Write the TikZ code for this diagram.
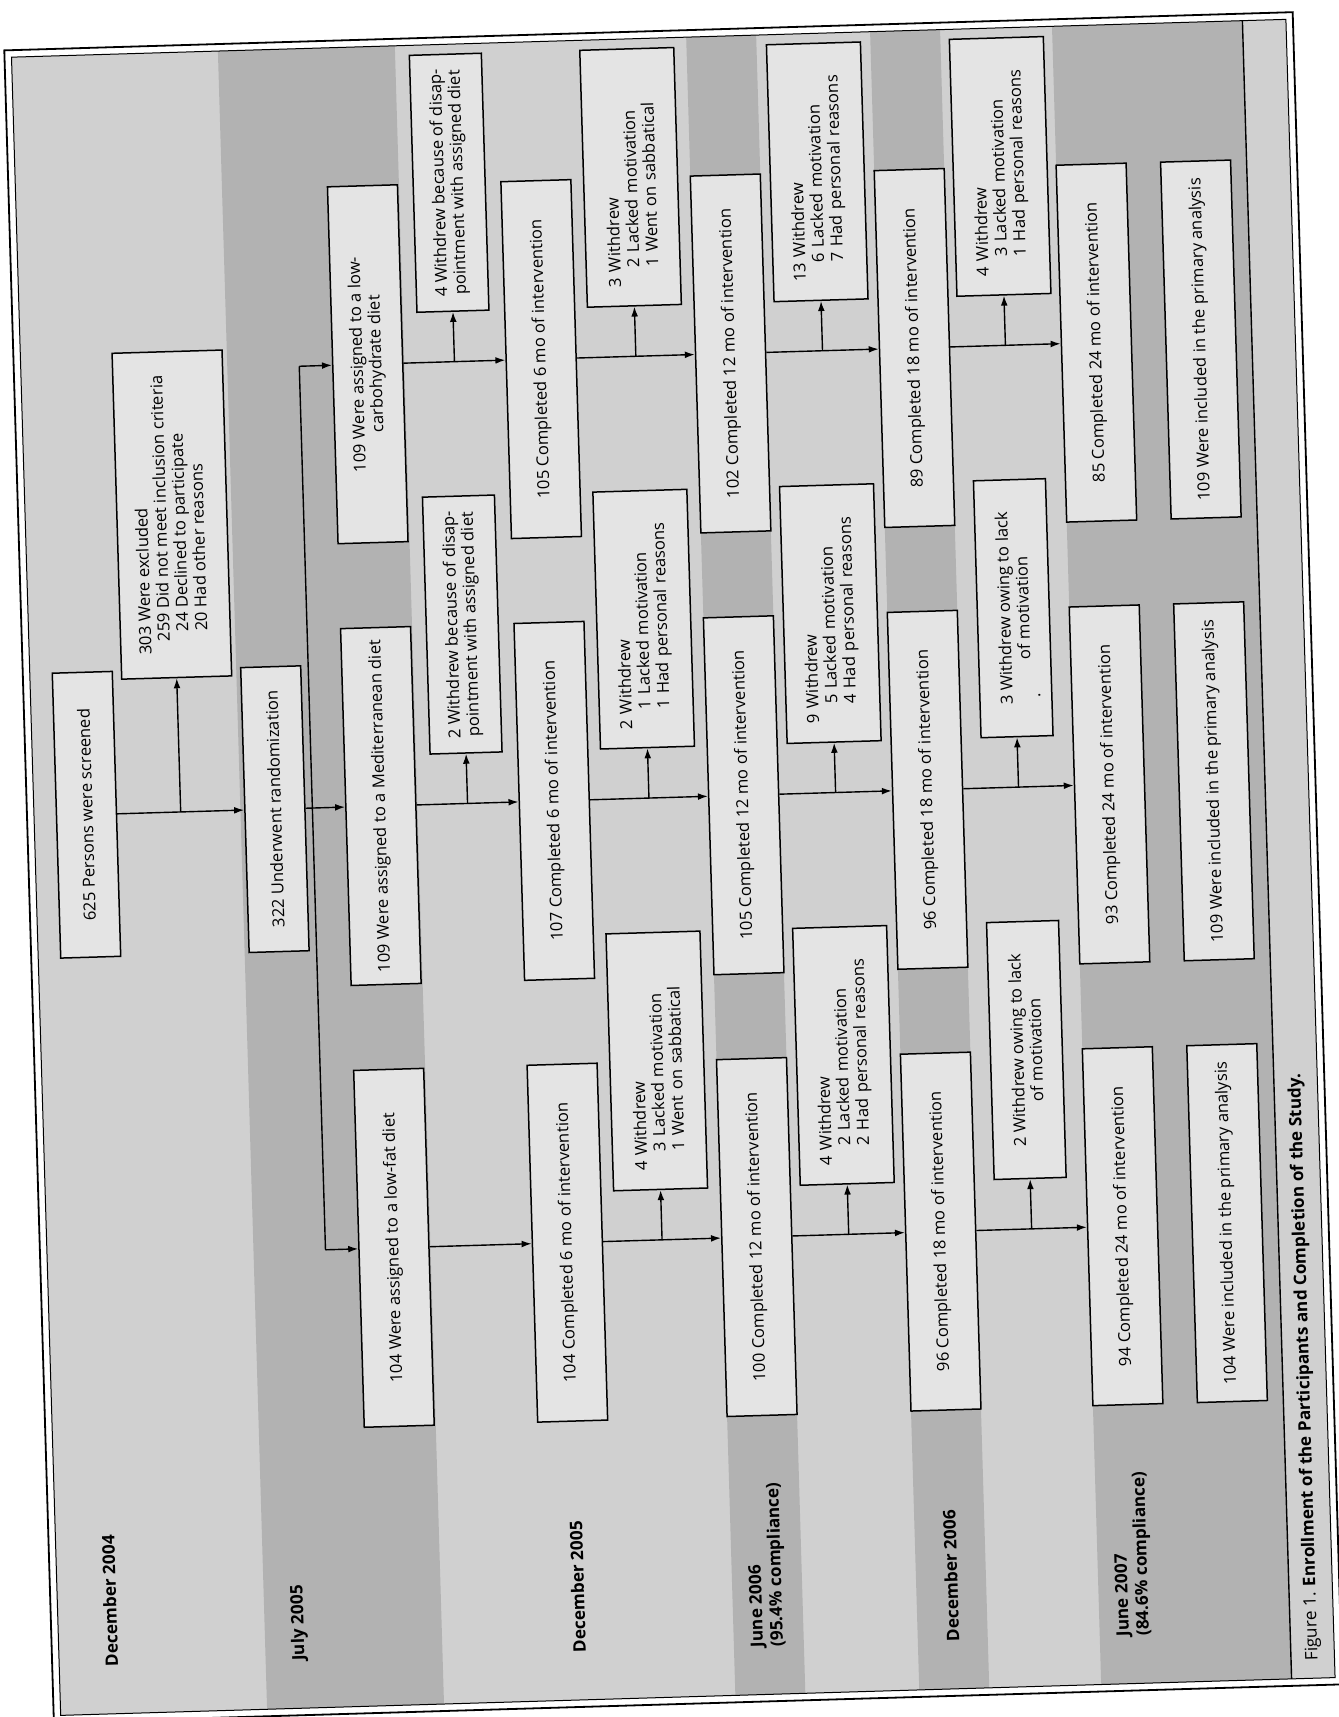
\documentclass[tikz,border=0pt]{standalone}
\usepackage{fontspec}
\setmainfont{Open Sans}
\usetikzlibrary{arrows.meta,calc}
\definecolor{bgc}{RGB}{208,208,208}
\definecolor{bandc}{RGB}{178,178,178}
\definecolor{boxc}{RGB}{228,228,228}
\newcommand\wind{\hspace*{1.15em}}
\begin{document}
\begin{tikzpicture}[x=0.5pt,y=-0.5pt,
  bx/.style={draw, line width=0.75pt, fill=boxc, rotate=90, inner sep=0pt, align=center, font=\fontsize{8.3}{9.4}\selectfont},
  mainbox/.style={bx, minimum width=178.5pt, minimum height=35pt},
  topbox/.style={bx, minimum width=142.5pt, minimum height=30pt},
  wtwo/.style={bx, minimum width=128.5pt, minimum height=36pt},
  wthree/.style={bx, text width=109.5pt, align=left, inner xsep=9.5pt, minimum height=47pt},
  arr/.style={-{Latex[length=5pt,width=3.4pt]}, line width=0.7pt},
  ln/.style={line width=0.7pt},
  lab/.style={rotate=90, anchor=west, inner sep=0pt, align=left, font=\bfseries\fontsize{8.6}{10}\selectfont}]
\useasboundingbox (0,0) rectangle (1338,1717);
\fill[white] (0,0) rectangle (1338,1717);
\begin{scope}[rotate around={1.7:(669,858)}, transform shape]
% background and bands
\fill[bgc] (35.5,38) rectangle (1310.5,1697);
\fill[bandc] (242,38) rectangle (419,1697);
\fill[bandc] (710.5,38) rectangle (780.5,1697);
\fill[bandc] (894.5,38) rectangle (964.5,1697);
\fill[bandc] (1076.5,38) rectangle (1267,1697);
% frame
\draw[line width=0.9pt] (28.5,31) rectangle (1317.5,1704);
\draw[line width=0.5pt] (35.5,38) rectangle (1310.5,1697);
\draw[line width=0.7pt] (1267,38) -- (1267,1697);

% enrollment
\node[topbox] (b625) at (88,797.5) {625 Persons were screened};
\node[topbox] (b322) at (276.5,797.5) {322 Underwent randomization};
\node[bx, minimum width=163pt, minimum height=55pt] (b303) at (182.25,500)
  {\begin{tabular}{@{}l@{}}303 Were excluded\\
   \hspace*{0.77em}\makebox[1.72em][r]{259} Did not meet inclusion criteria\\
   \hspace*{0.77em}\makebox[1.72em][r]{24} Declined to participate\\
   \hspace*{0.77em}\makebox[1.72em][r]{20} Had other reasons\end{tabular}};
\coordinate (sp1) at (314,355.5);
\coordinate (sp3) at (314,1239.5);

% low-carbohydrate row
\node[mainbox] (dC) at (382.5,355.5) {109 Were assigned to a low-\\carbohydrate diet};
\node[wtwo] (w6C) at (469.25,176.5) {4 Withdrew because of disap-\\pointment with assigned diet};
\node[mainbox] (s6C) at (556,355.5) {105 Completed 6 mo of intervention};
\node[wthree] (w12C) at (650.75,176.5) {3 Withdrew\\\wind 2 Lacked motivation\\\wind 1 Went on sabbatical};
\node[mainbox] (s12C) at (745.5,355.5) {102 Completed 12 mo of intervention};
\node[wthree] (w18C) at (837.5,176.5) {13 Withdrew\\\wind 6 Lacked motivation\\\wind 7 Had personal reasons};
\node[mainbox] (s18C) at (929.5,355.5) {89 Completed 18 mo of intervention};
\node[wthree] (w24C) at (1020.5,176.5) {4 Withdrew\\\wind 3 Lacked motivation\\\wind 1 Had personal reasons};
\node[mainbox] (s24C) at (1111.5,355.5) {85 Completed 24 mo of intervention};
\node[mainbox] (iC) at (1216,355.5) {109 Were included in the primary analysis};

% Mediterranean row
\node[mainbox] (dM) at (382.5,797.5) {109 Were assigned to a Mediterranean diet};
\node[wtwo] (w6M) at (469.25,618.5) {2 Withdrew because of disap-\\pointment with assigned diet};
\node[mainbox] (s6M) at (556,797.5) {107 Completed 6 mo of intervention};
\node[wthree] (w12M) at (650.75,618.5) {2 Withdrew\\\wind 1 Lacked motivation\\\wind 1 Had personal reasons};
\node[mainbox] (s12M) at (745.5,797.5) {105 Completed 12 mo of intervention};
\node[wthree] (w18M) at (837.5,618.5) {9 Withdrew\\\wind 5 Lacked motivation\\\wind 4 Had personal reasons};
\node[mainbox] (s18M) at (929.5,797.5) {96 Completed 18 mo of intervention};
\node[wtwo] (w24M) at (1020.5,618.5) {3 Withdrew owing to lack\\of motivation};
\node[bx, draw=none, fill=none] (dot) at (1044,706) {.};
\node[mainbox] (s24M) at (1111.5,797.5) {93 Completed 24 mo of intervention};
\node[mainbox] (iM) at (1216,797.5) {109 Were included in the primary analysis};

% low-fat row
\node[mainbox] (dF) at (382.5,1239.5) {104 Were assigned to a low-fat diet};
\node[mainbox] (s6F) at (556,1239.5) {104 Completed 6 mo of intervention};
\node[wthree] (w12F) at (650.75,1060.5) {4 Withdrew\\\wind 3 Lacked motivation\\\wind 1 Went on sabbatical};
\node[mainbox] (s12F) at (745.5,1239.5) {100 Completed 12 mo of intervention};
\node[wthree] (w18F) at (837.5,1060.5) {4 Withdrew\\\wind 2 Lacked motivation\\\wind 2 Had personal reasons};
\node[mainbox] (s18F) at (929.5,1239.5) {96 Completed 18 mo of intervention};
\node[wtwo] (w24F) at (1020.5,1060.5) {2 Withdrew owing to lack\\of motivation};
\node[mainbox] (s24F) at (1111.5,1239.5) {94 Completed 24 mo of intervention};
\node[mainbox] (iF) at (1216,1239.5) {104 Were included in the primary analysis};

% time labels
\node[lab] (t1) at (88,1650) {December 2004};
\node[lab] (t2) at (276.5,1650) {July 2005};
\node[lab] (t3) at (556,1650) {December 2005};
\node[lab] (t4) at (745.5,1650) {June 2006\\(95.4\% compliance)};
\node[lab] (t5) at (929.5,1650) {December 2006};
\node[lab] (t6) at (1111.5,1650) {June 2007\\(84.6\% compliance)};
\node[rotate=90, anchor=west, inner sep=0pt, font=\fontsize{8.6}{10}\selectfont] (cap) at (1289,1680)
  {Figure 1. \textbf{Enrollment of the Participants and Completion of the Study.}};

% connectors: enrollment
\draw[arr] (b625.south) -- (b322.north);
\draw[arr] ($(b625.south)!0.5!(b322.north)$) -- (b303.west);
\draw[arr] (b322.south) -- (dM.north);
\draw[ln] (sp1) -- (sp3);
\draw[arr] (sp1) -- (dC.north);
\draw[arr] (sp3) -- (dF.north);

% connectors: rows
\foreach \r in {C,M}{
  \draw[arr] (d\r.south) -- (s6\r.north);
  \draw[arr] ($(d\r.south)!0.5!(s6\r.north)$) -- (w6\r.west);
}
\draw[arr] (dF.south) -- (s6F.north);
\foreach \r in {C,M,F}{
  \draw[arr] (s6\r.south) -- (s12\r.north);
  \draw[arr] ($(s6\r.south)!0.5!(s12\r.north)$) -- (w12\r.west);
  \draw[arr] (s12\r.south) -- (s18\r.north);
  \draw[arr] ($(s12\r.south)!0.5!(s18\r.north)$) -- (w18\r.west);
  \draw[arr] (s18\r.south) -- (s24\r.north);
  \draw[arr] ($(s18\r.south)!0.5!(s24\r.north)$) -- (w24\r.west);
}
\end{scope}
\end{tikzpicture}
\end{document}
